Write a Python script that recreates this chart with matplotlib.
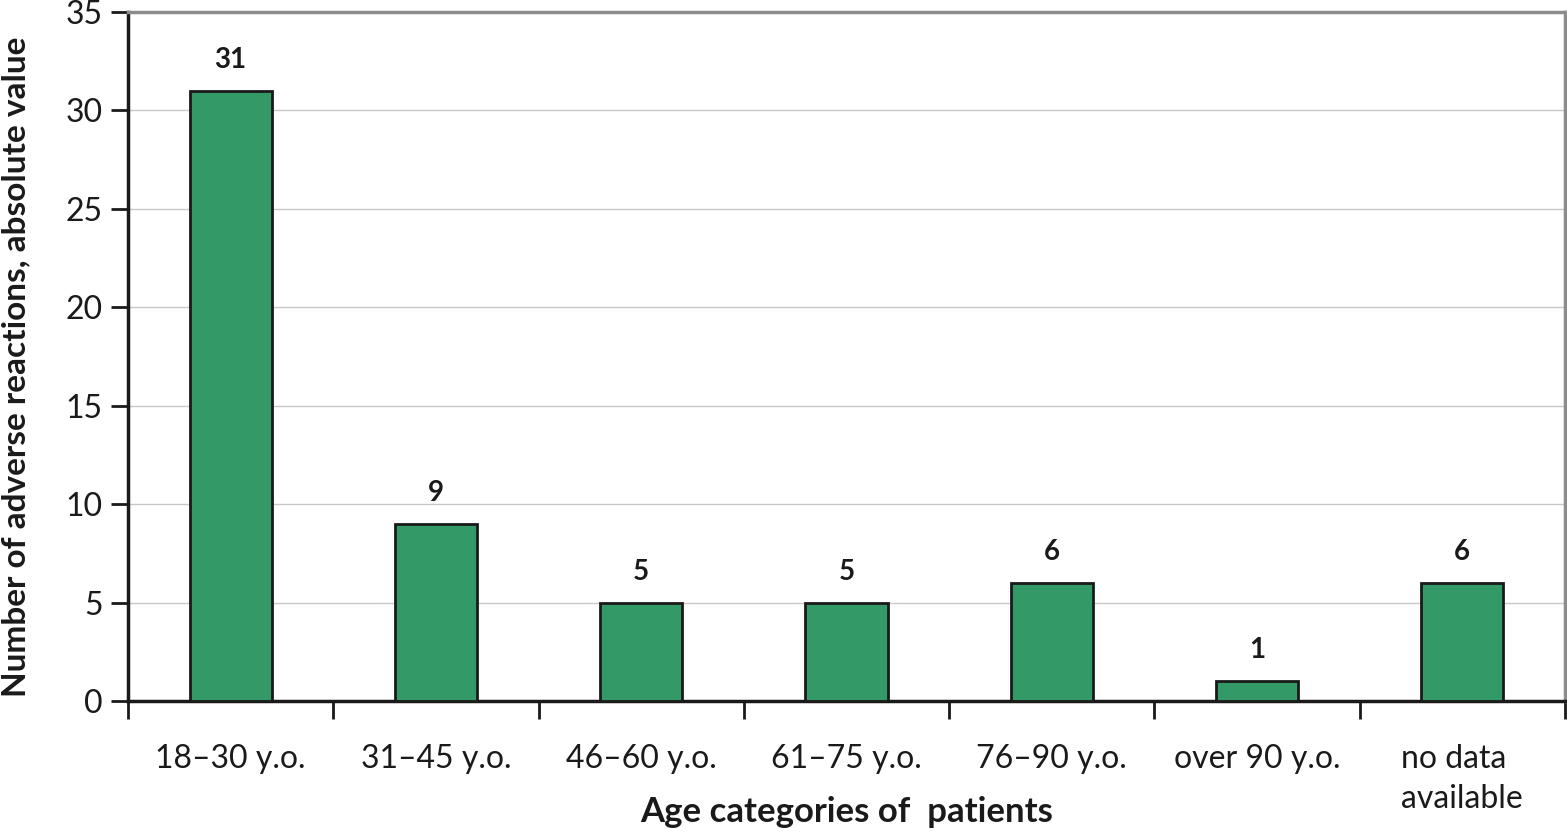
import matplotlib.pyplot as plt
import numpy as np

categories = ['18–30 y.o.', '31–45 y.o.', '46–60 y.o.', '61–75 y.o.',
              '76–90 y.o.', 'over 90 y.o.', 'no data\navailable']
reactions = [31, 9, 5, 5, 6, 1, 6]

plt.rcParams['font.family'] = ['Lato', 'DejaVu Sans']

fig = plt.figure(figsize=(15.67, 8.32), dpi=100)
ax = fig.add_axes([128 / 1567, 131 / 832, 1437 / 1567, 689 / 832])

x = np.arange(len(categories))
bars = ax.bar(x, reactions, width=0.4, color='#339966', edgecolor='#1a1a1a',
              linewidth=2, zorder=3)

for b, v in zip(bars, reactions):
    ax.annotate(str(v), (b.get_x() + b.get_width() / 2, v), xytext=(0, 16.5),
                textcoords='offset points', ha='center', va='baseline',
                fontsize=20, fontweight='bold', color='#1a1a1a')

ax.set_xlim(-0.5, len(categories) - 0.5)
ax.set_ylim(0, 35)
ax.set_yticks(range(0, 36, 5))
ax.yaxis.grid(True, color='#c8c8c8', linewidth=1, zorder=0)

# ticks between the categories, labels centred under the bars
ax.set_xticks(np.arange(-0.5, len(categories), 1))
ax.set_xticklabels([])
ax.set_xticks(x, minor=True)
labels = ax.set_xticklabels(categories, minor=True, fontsize=23,
                            color='#1a1a1a', linespacing=1.4, va='top')
for t in labels:
    t.set_multialignment('left')
ax.tick_params(axis='x', which='major', direction='out', length=13, width=2,
               color='#1a1a1a')
ax.tick_params(axis='x', which='minor', length=0, pad=31)
ax.tick_params(axis='y', direction='out', length=12, width=2, color='#1a1a1a',
               labelsize=23, labelcolor='#1a1a1a', pad=6)

for s in ['left', 'bottom']:
    ax.spines[s].set_color('#1a1a1a')
    ax.spines[s].set_linewidth(2.5)
for s in ['top', 'right']:
    ax.spines[s].set_color('#8c8c8c')
    ax.spines[s].set_linewidth(2.5)

ax.set_xlabel('Age categories of  patients', fontsize=25, fontweight='bold',
              color='#1a1a1a', va='center')
ax.xaxis.set_label_coords(0.5, (701 - 812) / 689)
ax.set_ylabel('Number of adverse reactions, absolute value', fontsize=24,
              fontweight='bold', color='#1a1a1a', va='center')
ax.yaxis.set_label_coords((16 - 128) / 1437, (701 - 367) / 689)

fig.savefig('out.png', dpi=100)
